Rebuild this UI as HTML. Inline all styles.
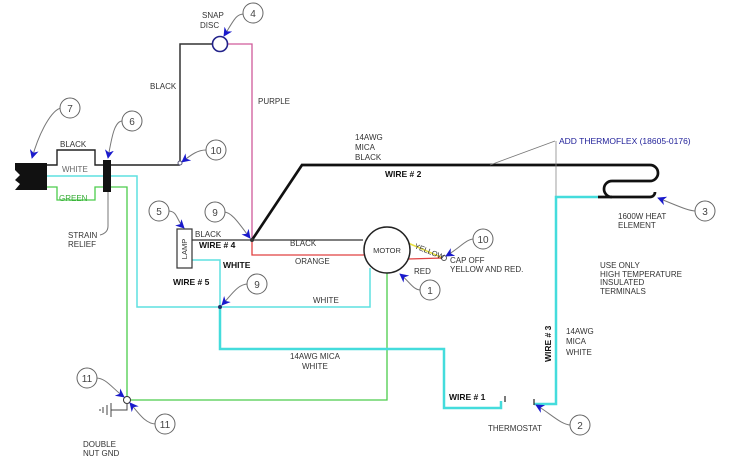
<!DOCTYPE html>
<html><head><meta charset="utf-8"><style>
html,body{margin:0;padding:0;background:#fff;}
svg{display:block;font-family:"Liberation Sans",sans-serif;}
text{font-size:8px;fill:#333;}
.b{font-weight:bold;fill:#111;font-size:8.5px;}
.bub circle{fill:#fff;stroke:#666;stroke-width:1;}
.bub text{font-size:10px;fill:#444;text-anchor:middle;}
.ld{fill:none;stroke:#777;stroke-width:1;}
</style></head><body>
<svg width="729" height="474" viewBox="0 0 729 474" xmlns="http://www.w3.org/2000/svg">
<defs><marker id="a" viewBox="0 0 10 10" refX="9" refY="5" markerWidth="9" markerHeight="9" orient="auto-start-reverse"><path d="M0,0 L10,5 L0,10 L3,5z" fill="#1a1acc"/></marker></defs>

<path d="M213,44 H180 V163" fill="none" stroke="#333" stroke-width="1.5"/>
<path d="M228,44 H252 V240" fill="none" stroke="#d05a9a" stroke-width="1.3"/>
<circle cx="220" cy="44" r="7.5" fill="#fff" stroke="#22228a" stroke-width="1.6"/>

<path d="M15,163 H47 V190 H15 L20,184 L15,180 L20,175 L15,170 Z" fill="#111"/>
<path d="M47,165 H57 V150 H95 V165 H180" fill="none" stroke="#222" stroke-width="1.4"/>
<path d="M47,176 H137 V307 H370 V268" fill="none" stroke="#5fe0e0" stroke-width="1.5"/>
<path d="M47,187 H57 V200 H95 V187 H127 V400 H387 V268" fill="none" stroke="#4ccc4c" stroke-width="1.3"/>
<rect x="103" y="160" width="8" height="32" fill="#111"/>

<path d="M252,240 L302,165 H650 A8,8 0 0 1 650,181 H612 A8,8 0 0 0 612,197" fill="none" stroke="#111" stroke-width="2.7"/>
<path d="M598,197 H650 A5,5 0 0 0 655,192" fill="none" stroke="#111" stroke-width="2.7"/>
<line x1="490" y1="165" x2="555" y2="141" stroke="#777" stroke-width="0.8"/>
<line x1="556" y1="141" x2="556" y2="198" stroke="#888" stroke-width="0.8"/>
<path d="M598,197 H556 V404 H534" fill="none" stroke="#44dcdc" stroke-width="2.5"/>
<line x1="534" y1="399" x2="534" y2="405" stroke="#333" stroke-width="1.3"/>
<line x1="505" y1="396" x2="505" y2="402" stroke="#333" stroke-width="1.3"/>
<path d="M220,307 V349 H444 V408 H501 V401" fill="none" stroke="#44dcdc" stroke-width="2.5"/>

<path d="M192,240 H363" fill="none" stroke="#333" stroke-width="1.3"/>
<path d="M252,240 V255 H364" fill="none" stroke="#e04040" stroke-width="1.3"/>
<path d="M192,260 H220 V307" fill="none" stroke="#5fe0e0" stroke-width="1.5"/>
<rect x="177" y="229" width="15" height="39" fill="#fff" stroke="#333" stroke-width="1.2"/>
<text transform="translate(187,249) rotate(-90)" text-anchor="middle" style="font-size:7.5px">LAMP</text>
<line x1="408" y1="243" x2="443" y2="258" stroke="#e8e040" stroke-width="1.5"/>
<line x1="408" y1="259" x2="443" y2="258" stroke="#e04040" stroke-width="1.3"/>
<circle cx="444" cy="258" r="2.5" fill="#fff" stroke="#555"/>
<circle cx="387" cy="250" r="23" fill="#fff" stroke="#222" stroke-width="1.5"/>
<text x="387" y="253" text-anchor="middle" style="font-size:7.5px">MOTOR</text>
<circle cx="252" cy="240" r="2" fill="#333"/>
<circle cx="220" cy="307" r="2" fill="#236"/>
<circle cx="180" cy="163" r="2" fill="#fff" stroke="#557"/>
<circle cx="127" cy="400" r="3.5" fill="#fff" stroke="#333"/>
<path d="M127,403 V410 H111 M111,403 V417 M107,405 V415 M103,407 V413 M100,409 V411" fill="none" stroke="#444"/>

<text x="202" y="18">SNAP</text><text x="200" y="28">DISC</text>
<text x="150" y="89">BLACK</text>
<text x="258" y="104">PURPLE</text>
<text x="60" y="147">BLACK</text>
<text x="62" y="172" style="fill:#666">WHITE</text>
<text x="59" y="201" style="fill:#3a3">GREEN</text>
<text x="68" y="238">STRAIN</text><text x="68" y="247">RELIEF</text>
<text x="195" y="237">BLACK</text>
<text x="199" y="248" class="b">WIRE # 4</text>
<text x="223" y="268" class="b">WHITE</text>
<text x="173" y="285" class="b">WIRE # 5</text>
<text x="290" y="246">BLACK</text>
<text x="295" y="264">ORANGE</text>
<text x="313" y="303">WHITE</text>
<text x="355" y="140">14AWG</text><text x="355" y="150">MICA</text><text x="355" y="160">BLACK</text>
<text x="385" y="177" class="b">WIRE # 2</text>
<text x="559" y="144" style="fill:#22229a;font-size:8.5px">ADD THERMOFLEX (18605-0176)</text>
<text x="618" y="219">1600W HEAT</text><text x="618" y="228">ELEMENT</text>
<text x="600" y="268">USE ONLY</text><text x="600" y="277">HIGH TEMPERATURE</text><text x="600" y="285">INSULATED</text><text x="600" y="294">TERMINALS</text>
<text transform="translate(414,248) rotate(22)" style="font-size:7.5px">YELLOW</text>
<text x="414" y="274">RED</text>
<text x="450" y="263">CAP OFF</text><text x="450" y="272">YELLOW AND RED.</text>
<text x="290" y="359">14AWG MICA</text><text x="302" y="369">WHITE</text>
<text x="449" y="400" class="b">WIRE # 1</text>
<text x="488" y="431">THERMOSTAT</text>
<text transform="translate(551,362) rotate(-90)" class="b">WIRE # 3</text>
<text x="566" y="334">14AWG</text><text x="566" y="344">MICA</text><text x="566" y="355">WHITE</text>
<text x="83" y="447">DOUBLE</text><text x="83" y="456">NUT GND</text>

<g class="ld">
<path d="M244,14 C236,14 234,20 224,36" marker-end="url(#a)"/>
<path d="M61,108 C52,110 40,130 32,158" marker-end="url(#a)"/>
<path d="M123,121 C115,120 112,135 108,158" marker-end="url(#a)"/>
<path d="M206,150 C198,150 192,154 182,162" marker-end="url(#a)"/>
<path d="M168,211 C178,211 176,220 184,228" marker-end="url(#a)"/>
<path d="M224,212 C232,212 240,225 250,238" marker-end="url(#a)"/>
<path d="M248,284 C238,284 232,294 222,305" marker-end="url(#a)"/>
<path d="M474,239 C466,239 460,248 446,256" marker-end="url(#a)"/>
<path d="M421,290 C413,290 410,282 400,274" marker-end="url(#a)"/>
<path d="M696,211 C688,211 676,205 658,198" marker-end="url(#a)"/>
<path d="M571,425 C561,425 550,413 536,405" marker-end="url(#a)"/>
<path d="M96,378 C106,378 112,388 124,397" marker-end="url(#a)"/>
<path d="M156,424 C146,424 140,415 130,403" marker-end="url(#a)"/>
<path d="M108,192 V226 C108,232 104,234 100,235"/>
</g>
<g class="bub">
<circle cx="253" cy="13" r="10"/><text x="253" y="17">4</text>
<circle cx="70" cy="108" r="10"/><text x="70" y="112">7</text>
<circle cx="132" cy="121" r="10"/><text x="132" y="125">6</text>
<circle cx="216" cy="150" r="10"/><text x="216" y="154">10</text>
<circle cx="159" cy="211" r="10"/><text x="159" y="215">5</text>
<circle cx="215" cy="212" r="10"/><text x="215" y="216">9</text>
<circle cx="257" cy="284" r="10"/><text x="257" y="288">9</text>
<circle cx="483" cy="239" r="10"/><text x="483" y="243">10</text>
<circle cx="430" cy="290" r="10"/><text x="430" y="294">1</text>
<circle cx="705" cy="211" r="10"/><text x="705" y="215">3</text>
<circle cx="580" cy="425" r="10"/><text x="580" y="429">2</text>
<circle cx="87" cy="378" r="10"/><text x="87" y="382">11</text>
<circle cx="165" cy="424" r="10"/><text x="165" y="428">11</text>
</g>
</svg>
</body></html>
